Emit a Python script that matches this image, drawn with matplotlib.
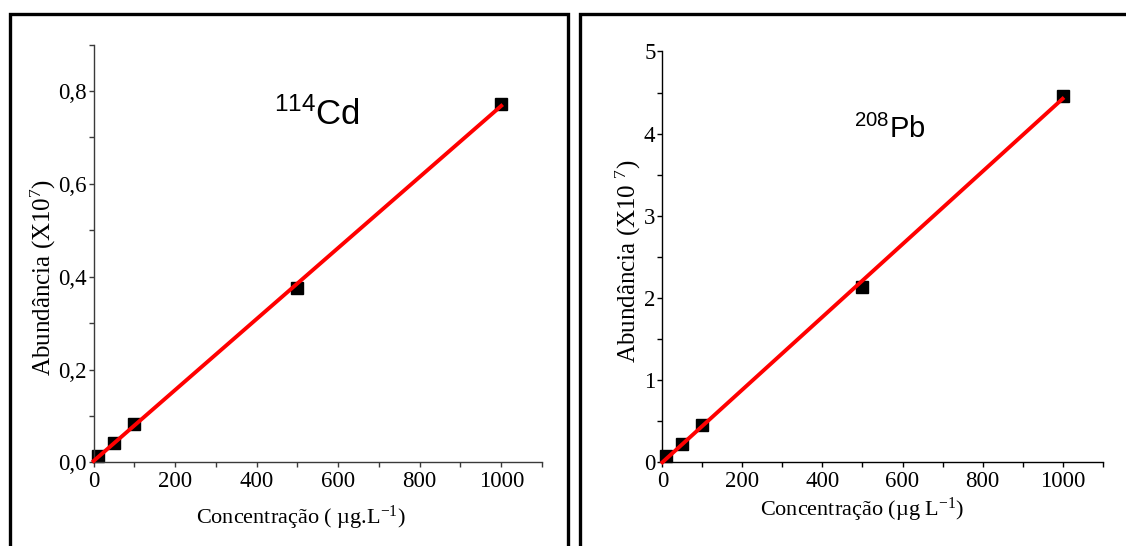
import numpy as np
import matplotlib
matplotlib.use("Agg")
import matplotlib.pyplot as plt
from matplotlib.lines import Line2D
from matplotlib.ticker import MultipleLocator, FixedLocator, FixedFormatter

plt.rcParams['font.family'] = ['Liberation Serif', 'DejaVu Serif']
plt.rcParams['mathtext.fontset'] = 'custom'
plt.rcParams['mathtext.rm'] = 'Liberation Serif'
plt.rcParams['mathtext.it'] = 'Liberation Serif:italic'
plt.rcParams['mathtext.sf'] = 'Liberation Sans'

# ---- data ----
conc = [10, 50, 100, 500, 1000]
cd_abund = [0.013, 0.042, 0.082, 0.375, 0.773]
pb_abund = [0.075, 0.224, 0.45, 2.14, 4.46]

x_ticks = [0, 200, 400, 600, 800, 1000]
x_ticklabels = ['0', '200', '400', '600', '800', '1000']
cd_yticks = [0.0, 0.2, 0.4, 0.6, 0.8]
cd_yticklabels = ['0,0', '0,2', '0,4', '0,6', '0,8']
pb_yticks = [0, 1, 2, 3, 4, 5]
pb_yticklabels = ['0', '1', '2', '3', '4', '5']

W, H = 1126, 546
fig = plt.figure(figsize=(W / 100, H / 100), dpi=100)


def px_axes(left, top, right, bottom):
    return fig.add_axes([left / W, 1 - bottom / H, (right - left) / W, (bottom - top) / H])


def style(ax, spine_color):
    for s in ['top', 'right']:
        ax.spines[s].set_visible(False)
    for s in ['left', 'bottom']:
        ax.spines[s].set_color(spine_color)
        ax.spines[s].set_linewidth(1.0)
    ax.tick_params(which='both', direction='out', length=3.5, width=1.0,
                   color=spine_color, labelsize=16.5)
    ax.tick_params(axis='y', pad=1.5)
    ax.tick_params(axis='x', pad=2.5)


# ---- left panel (Cd) ----
ax1 = px_axes(93.6, 44.6, 542, 462.4)
ax1.set_xlim(0, 1100)
ax1.set_ylim(0, 0.9)
style(ax1, '#3a3a3a')
ax1.xaxis.set_major_locator(FixedLocator(x_ticks))
ax1.xaxis.set_major_formatter(FixedFormatter(x_ticklabels))
ax1.xaxis.set_minor_locator(MultipleLocator(100))
ax1.yaxis.set_major_locator(FixedLocator(cd_yticks))
ax1.yaxis.set_major_formatter(FixedFormatter(cd_yticklabels))
ax1.yaxis.set_minor_locator(MultipleLocator(0.1))

c1 = np.polyfit(conc, cd_abund, 1)
xf = np.array([0, 1000])
ax1.plot(xf, np.polyval(c1, xf), color='#ff0000', lw=2.8, zorder=3, clip_on=False)
ax1.plot(conc, cd_abund, ls='none', marker='s', ms=8, color='black', zorder=2, clip_on=False)
ax1.text(547, 0.727, r'$\mathsf{^{114}Cd}$', fontsize=25, ha='center', va='baseline')
ax1.set_xlabel(r'Concentração ( µg.L$^{-1}$)', fontsize=16)
ax1.set_ylabel(r'Abundância (X10$^{7}$)', fontsize=18)
ax1.xaxis.set_label_coords(0.463, -0.133)
ax1.xaxis.label.set_va('center')
ax1.yaxis.set_label_coords(-0.112, 0.442)
ax1.yaxis.label.set_va('center')

# ---- right panel (Pb) ----
ax2 = px_axes(662.4, 51.5, 1102.6, 462.4)
ax2.set_xlim(0, 1100)
ax2.set_ylim(0, 5)
style(ax2, 'black')
ax2.xaxis.set_major_locator(FixedLocator(x_ticks))
ax2.xaxis.set_major_formatter(FixedFormatter(x_ticklabels))
ax2.xaxis.set_minor_locator(MultipleLocator(100))
ax2.yaxis.set_major_locator(FixedLocator(pb_yticks))
ax2.yaxis.set_major_formatter(FixedFormatter(pb_yticklabels))
ax2.yaxis.set_minor_locator(MultipleLocator(0.5))

c2 = np.polyfit(conc, pb_abund, 1)
ax2.plot(xf, np.polyval(c2, xf), color='#ff0000', lw=2.8, zorder=3, clip_on=False)
ax2.plot(conc, pb_abund, ls='none', marker='s', ms=8, color='black', zorder=2, clip_on=False)
ax2.text(569, 3.95, r'$\mathsf{^{208}Pb}$', fontsize=21, ha='center', va='baseline')
ax2.set_xlabel(r'Concentração (µg L$^{-1}$)', fontsize=16)
ax2.set_ylabel(r'Abundância (X10 $^{7}$)', fontsize=18)
ax2.xaxis.set_label_coords(0.4546, -0.116)
ax2.xaxis.label.set_va('center')
ax2.yaxis.set_label_coords(-0.077, 0.490)
ax2.yaxis.label.set_va('center')

# ---- panel frames ----
def frame(xs, ys):
    fig.add_artist(Line2D([x / W for x in xs], [1 - y / H for y in ys],
                          color='black', lw=2.4, solid_joinstyle='miter',
                          transform=fig.transFigure))

frame([9.5, 9.5, 567.5, 567.5], [H + 5, 13.8, 13.8, H + 5])
frame([579.5, 579.5, W + 5], [H + 5, 13.8, 13.8])

fig.savefig('out.png', dpi=100)
